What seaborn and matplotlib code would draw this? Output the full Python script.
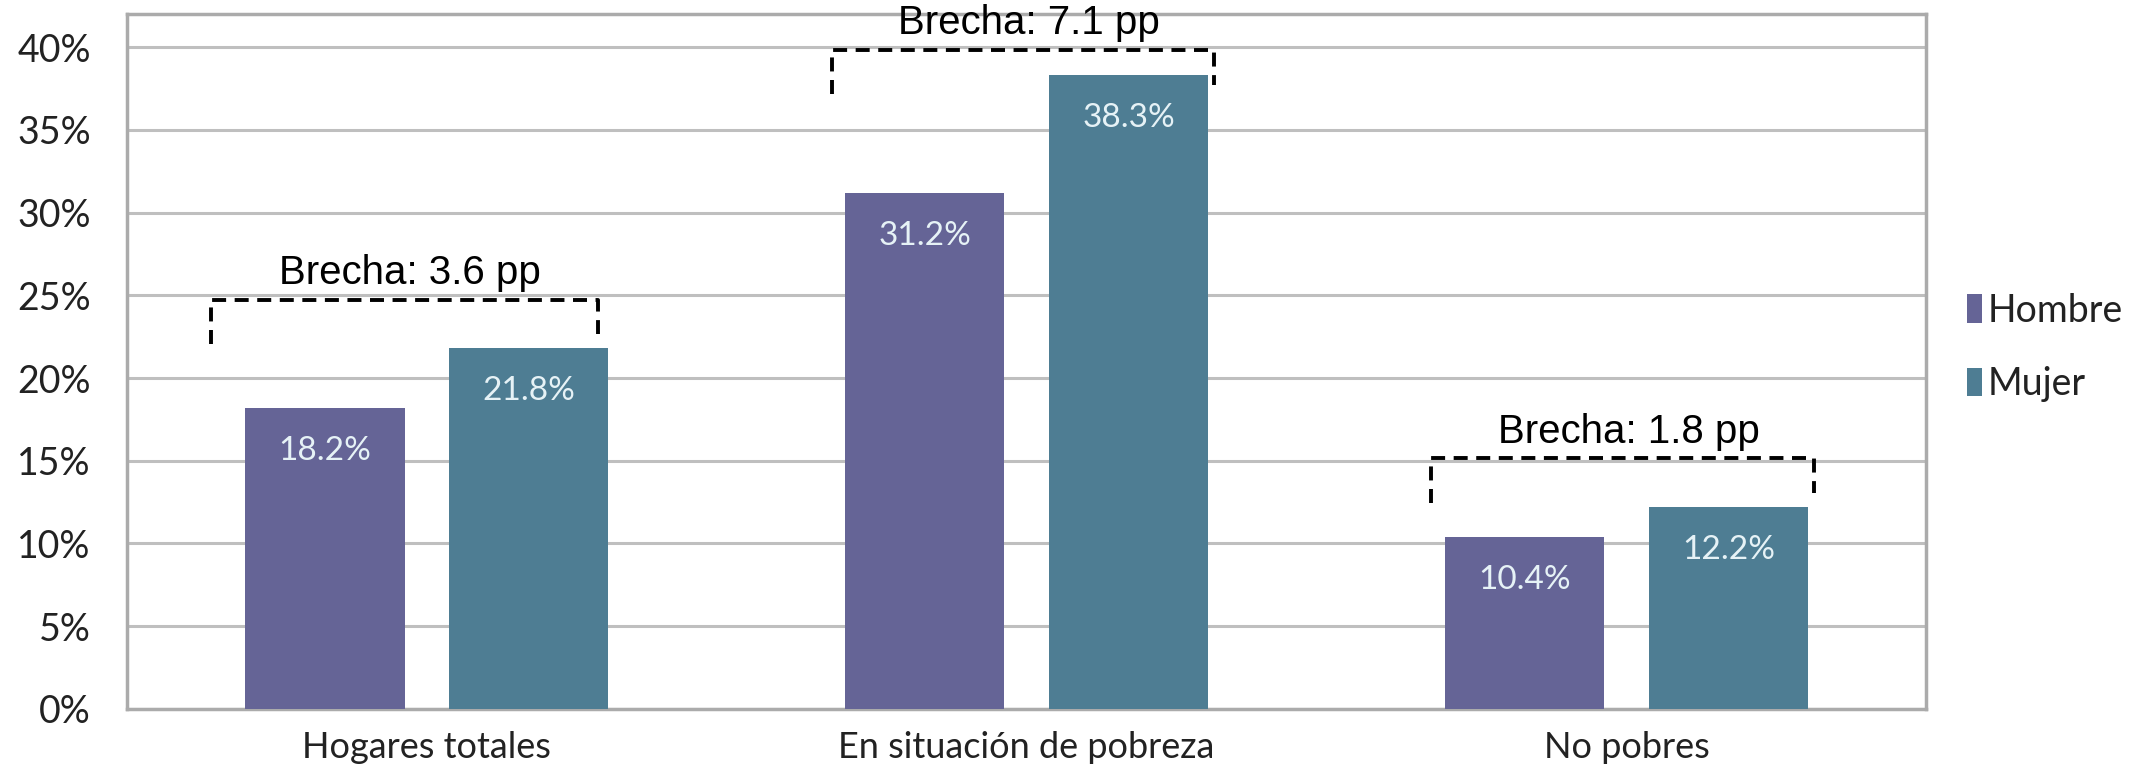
import matplotlib
matplotlib.use("Agg")
import matplotlib.pyplot as plt
import seaborn as sns
import pandas as pd
from matplotlib.patches import Patch

# ---- data ----
categories = ["Hogares totales", "En situación de pobreza", "No pobres"]
hombre = [18.2, 31.2, 10.4]
mujer = [21.8, 38.3, 12.2]
series_names = ["Hombre", "Mujer"]
gap_labels = ["Brecha: 3.6 pp", "Brecha: 7.1 pp", "Brecha: 1.8 pp"]
y_ticks = [0, 5, 10, 15, 20, 25, 30, 35, 40]

# bracket placement (style): horizontal offsets from category centre
bracket_left_off = [-0.36, -0.325, -0.325]
bracket_right_off = [0.285, 0.313, 0.313]

colors = {"Hombre": "#656496", "Mujer": "#4E7D93"}

df = pd.DataFrame({
    "cat": categories * 2,
    "sexo": ["Hombre"] * 3 + ["Mujer"] * 3,
    "val": hombre + mujer,
})

sns.set_theme(style="white")
plt.rcParams["font.family"] = ["Lato", "DejaVu Sans"]

fig = plt.figure(figsize=(21.38, 7.77), dpi=100)
ax = fig.add_axes([0.0593, 0.0877, 0.8417, 0.894])

sns.barplot(data=df, x="cat", y="val", hue="sexo", palette=colors,
            width=0.68, ax=ax, legend=False, saturation=1, zorder=3)

# narrow the bars around their centres to leave a gap between them
bar_w = 0.266
for p in ax.patches:
    c = p.get_x() + p.get_width() / 2
    p.set_width(bar_w)
    p.set_x(c - bar_w / 2)
    p.set_edgecolor("none")

ax.set_ylim(0, 42)
ax.set_xlim(-0.5, 2.5)
ax.set_yticks(y_ticks)
ax.set_yticklabels([f"{t}%" for t in y_ticks], fontsize=27, color="#222222")
ax.tick_params(axis="x", labelsize=26, colors="#222222", length=0, pad=16)
ax.tick_params(axis="y", length=0, pad=26)
ax.set_xlabel("")
ax.set_ylabel("")

ax.yaxis.grid(True, color="#BFBFBF", linewidth=2.2, zorder=0)
ax.set_axisbelow(True)
for s in ax.spines.values():
    s.set_visible(True)
    s.set_color("#ABABAB")
    s.set_linewidth(2.5)

# value labels inside bars
for p in ax.patches:
    h = p.get_height()
    if h <= 0:
        continue
    ax.text(p.get_x() + p.get_width() / 2, h - 2.6, f"{h:.1f}%",
            ha="center", va="center", fontsize=24, color="#E6F2F6", zorder=5)

# gap brackets
for i, (hv, mv, lab) in enumerate(zip(hombre, mujer, gap_labels)):
    top = min(max(hv, mv) + 2.95, 39.85)
    xl, xr = i + bracket_left_off[i], i + bracket_right_off[i]
    kw = dict(color="black", linewidth=2.8, linestyle=(0, (3.6, 2.2)), zorder=6)
    ax.plot([xl, xl, xr, xr], [top - 2.7, top, top, top - 2.1], **kw)
    ax.text((xl + xr) / 2 + 0.01, top + 0.45, lab, ha="center", va="bottom",
            fontsize=29, family=["Liberation Sans", "DejaVu Sans"],
            color="black", zorder=6, clip_on=False)

handles = [Patch(facecolor=colors[n], edgecolor="none") for n in series_names]
fig.legend(handles, series_names, loc="center left",
           bbox_to_anchor=(0.904, 0.553), frameon=False, fontsize=27,
           handlelength=0.4, handleheight=0.8, handletextpad=0.15,
           labelspacing=1.0, labelcolor="#222222")

fig.savefig("out.png", dpi=100)
